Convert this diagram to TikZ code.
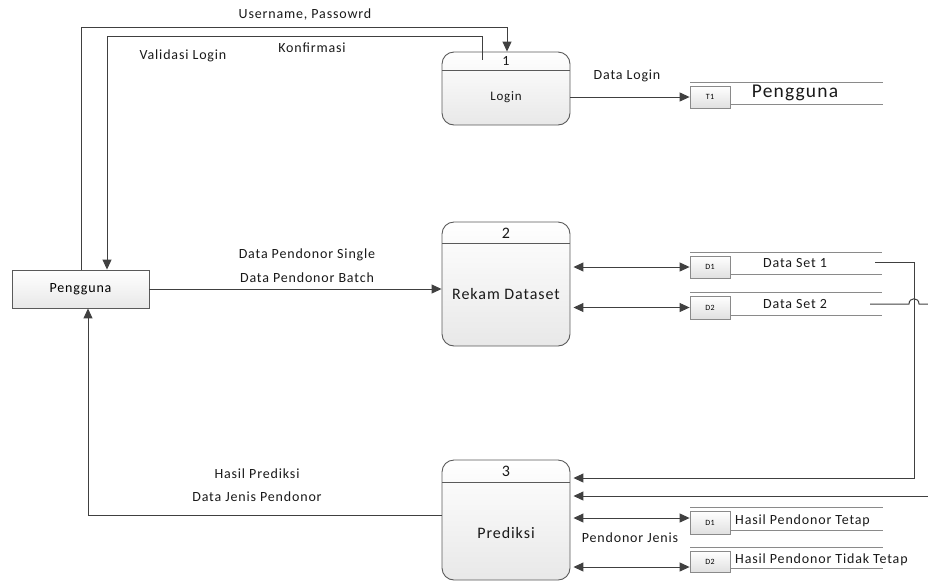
\documentclass[tikz,border=0pt]{standalone}
\usepackage{fontspec}
\setmainfont{Carlito}[LetterSpace=6]
\usetikzlibrary{arrows.meta}
\definecolor{ln}{HTML}{404040}
\definecolor{bd}{HTML}{5A5A5A}
\definecolor{sl}{HTML}{8A8A8A}
\begin{document}
\begin{tikzpicture}[x=1pt,y=-1pt,
  flow/.style={draw=ln, line width=1pt, -{Triangle[length=10pt,width=9pt]}},
  dflow/.style={draw=ln, line width=1pt, {Triangle[length=10pt,width=9pt]}-{Triangle[length=10pt,width=9pt]}},
  plain/.style={draw=ln, line width=1pt},
  lbl/.style={font=\fontsize{14}{16}\selectfont, inner sep=0pt, text=black!90},
  proc/.style={draw=bd, line width=0.9pt, rounded corners=12pt, top color=white, bottom color=black!9, minimum width=128pt, inner sep=0pt},
  ent/.style={draw=bd, line width=0.9pt, top color=white, bottom color=black!9, minimum width=137pt, minimum height=38pt, inner sep=0pt, font=\fontsize{14}{16}\selectfont},
  tag/.style={draw=sl, line width=0.8pt, top color=white, bottom color=black!12, minimum width=40pt, minimum height=22pt, inner sep=0pt, font=\fontsize{8}{9}\selectfont, yshift=-2pt},
  sline/.style={draw=sl, line width=0.8pt}
]
\useasboundingbox (0,0) rectangle (928,582);

% external entity
\node[ent] (pg) at (80.5,289) {Pengguna};

% processes
\node[proc, minimum height=73pt] (p1) at (506,88.5) {};
\draw[draw=bd, line width=0.9pt] (442,70) -- (570,70);
\node[lbl] (p1n) at (506,61) {1};
\node[lbl, font=\fontsize{13}{15}\selectfont] (p1t) at (506,97) {Login};

\node[proc, minimum height=124pt] (p2) at (506,284) {};
\draw[draw=bd, line width=0.9pt] (442,243) -- (570,243);
\node[lbl, font=\fontsize{16}{18}\selectfont] (p2n) at (506,233) {2};
\node[lbl, font=\fontsize{16}{18}\selectfont] (p2t) at (506,294) {Rekam Dataset};

\node[proc, minimum height=120pt] (p3) at (506,520) {};
\draw[draw=bd, line width=0.9pt] (442,482) -- (570,482);
\node[lbl, font=\fontsize{16}{18}\selectfont] (p3n) at (506,471) {3};
\node[lbl, font=\fontsize{16}{18}\selectfont] (p3t) at (506,533) {Prediksi};

% data stores
\node[tag, minimum height=22pt] (t1) at (710,95) {T1};
\draw[sline] (690,82) -- (883,82) (730,104) -- (883,104);
\node[lbl, font=\fontsize{19.5}{22}\selectfont] (t1t) at (795,93) {Pengguna};

\node[tag] (d1) at (710,265) {D1};
\draw[sline] (690,252) -- (882,252) (730,274) -- (882,274);
\node[lbl] (d1t) at (795,263) {Data Set 1};

\node[tag, minimum height=23pt] (d2) at (710,305.5) {D2};
\draw[sline] (690,292) -- (882,292) (730,315) -- (882,315);
\node[lbl] (d2t) at (795,304) {Data Set 2};

\node[tag, minimum height=23pt] (h1) at (710,520.5) {D1};
\draw[sline] (690,507) -- (883,507) (730,530) -- (883,530);
\node[lbl, anchor=west] (h1t) at (735,521) {Hasil Pendonor Tetap};

\node[tag, minimum height=21pt] (h2) at (710,559.5) {D2};
\draw[sline] (690,547) -- (883,547) (730,568) -- (883,568);
\node[lbl, anchor=west] (h2t) at (735,560) {Hasil Pendonor Tidak Tetap};

% connectors
\coordinate (ua) at (81,27);
\coordinate (ub) at (507,27);
\draw[flow] (pg.north -| ua) -- (ua) -- (ub) -- (p1.north -| ub);

\coordinate (kb) at (482,36);
\coordinate (ka) at (107,36);
\draw[flow] ([yshift=-8pt]p1.north -| kb) -- (kb) -- (ka) -- (pg.north -| ka);

\draw[flow] (p1.east |- t1.west) -- (t1.west);

\draw[flow] (pg.east) -- (pg.east -| p2.west);

\draw[dflow] ([xshift=3pt]p2.east |- d1.west) -- (d1.west);
\draw[dflow] ([xshift=3pt]p2.east |- d2.west) -- (d2.west);

\coordinate (d1o) at (875,262);
\coordinate (c1) at (914,478);
\draw[flow] (d1o) -| (c1) -- ([xshift=3pt]c1 -| p3.east);

\coordinate (d2o) at (870,304);
\coordinate (c2) at (940,496);
\draw[plain] (d2o) -- (909,304) .. controls (909,297) and (919,297) .. (919,304) -- (940,304) -- (c2);
\draw[flow] (c2) -- ([xshift=3pt]c2 -| p3.east);

\draw[dflow] ([xshift=3pt,yshift=4.5pt]p3.east |- h1.west) -- ([yshift=4.5pt]h1.west);
\draw[dflow] ([xshift=3pt,yshift=-5.5pt]p3.east |- h2.west) -- ([yshift=-5.5pt]h2.west);

\coordinate (pk) at (88,515);
\draw[flow] (p3.west |- pk) -- (pk) -- (pg.south -| pk);

% labels
\node[lbl] (l1) at (305,15) {Username, Passowrd};
\node[lbl] (l2) at (312,48) {Konfirmasi};
\node[lbl] (l3) at (183,56) {Validasi Login};
\node[lbl] (l4) at (627,76) {Data Login};
\node[lbl] (l5) at (307,255) {Data Pendonor Single};
\node[lbl] (l6) at (307,278) {Data Pendonor Batch};
\node[lbl] (l7) at (257,474) {Hasil Prediksi};
\node[lbl] (l8) at (257,497) {Data Jenis Pendonor};
\node[lbl] (l9) at (630,538) {Pendonor Jenis};
\end{tikzpicture}
\end{document}
